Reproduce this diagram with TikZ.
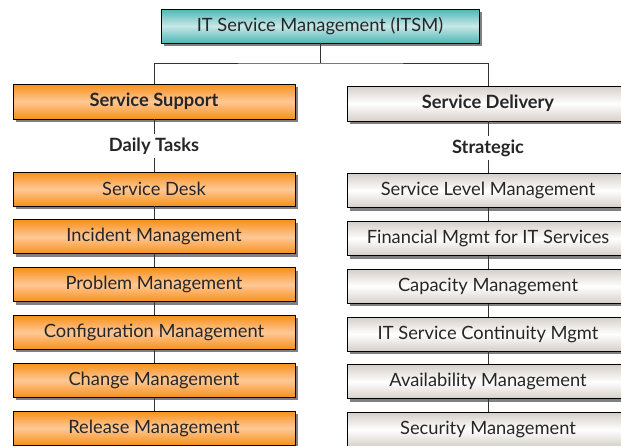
\documentclass[tikz,border=0pt]{standalone}
\usepackage{fontspec}
\setmainfont{Lato}
\usetikzlibrary{shadows}
\definecolor{tealA}{HTML}{4FB6B6}
\definecolor{tealB}{HTML}{C8E7E7}
\definecolor{orA}{HTML}{F7901A}
\definecolor{orB}{HTML}{FFC896}
\definecolor{grA}{HTML}{D6CFC8}
\definecolor{grB}{HTML}{FFFFFF}
\definecolor{lineC}{HTML}{333333}
\tikzset{
  box/.style={rectangle, draw=black, line width=0.9pt, minimum width=282pt, minimum height=34pt,
    inner sep=0pt, font=\fontsize{18.3}{20}\selectfont, text=black!85,
    drop shadow={shadow xshift=3pt, shadow yshift=-3pt, fill=black!50, opacity=1}},
  tealbox/.style={box, top color=tealA, bottom color=tealA, middle color=tealB},
  orbox/.style={box, top color=orA, bottom color=orA, middle color=orB},
  grbox/.style={box, top color=grA, bottom color=grA, middle color=grB},
  lbl/.style={font=\bfseries\fontsize{18.3}{20}\selectfont, inner sep=3pt, text=black!85},
  conn/.style={draw=lineC, line width=0.9pt}
}
\begin{document}
\begin{tikzpicture}[x=1pt, y=-1pt]
\useasboundingbox (0,0) rectangle (621,445);
\clip (0,0) rectangle (621,445);
\fill[white] (0,0) rectangle (621,445);
\coordinate (j) at (320,63);
% nodes
\node[tealbox, minimum width=318pt] (top) at (320,26) {IT Service Management (ITSM)};
\node[orbox, minimum height=35pt] (ss) at (154,101.5) {\bfseries Service Support};
\node[lbl] (dt) at (154,146) {Daily Tasks};
\node[orbox] (l1) at (154,189) {Service Desk};
\node[orbox] (l2) at (154,236.8) {Incident Management};
\node[orbox] (l3) at (154,284.6) {Problem Management};
\node[orbox] (l4) at (154,332.4) {Configuration Management};
\node[orbox] (l5) at (154,380.2) {Change Management};
\node[orbox] (l6) at (154,428) {Release Management};
\node[grbox, minimum height=35pt] (sd) at (488,103.5) {\bfseries Service Delivery};
\node[lbl] (st) at (488,148) {Strategic};
\node[grbox] (r1) at (488,190.5) {Service Level Management};
\node[grbox] (r2) at (488,238.5) {Financial Mgmt for IT Services};
\node[grbox] (r3) at (488,286.2) {Capacity Management};
\node[grbox] (r4) at (488,334) {IT Service Continuity Mgmt};
\node[grbox] (r5) at (488,381.8) {Availability Management};
\node[grbox] (r6) at (488,429.6) {Security Management};
% connectors
\draw[conn] (top.south) -- (j);
\draw[conn] (ss.north) |- (j) -| (sd.north);
\draw[conn] (ss.south) -- (dt.north);
\draw[conn] (dt.south) -- (l1.north);
\draw[conn] (l1.south) -- (l2.north);
\draw[conn] (l2.south) -- (l3.north);
\draw[conn] (l3.south) -- (l4.north);
\draw[conn] (l4.south) -- (l5.north);
\draw[conn] (l5.south) -- (l6.north);
\draw[conn] (sd.south) -- (st.north);
\draw[conn] (st.south) -- (r1.north);
\draw[conn] (r1.south) -- (r2.north);
\draw[conn] (r2.south) -- (r3.north);
\draw[conn] (r3.south) -- (r4.north);
\draw[conn] (r4.south) -- (r5.north);
\draw[conn] (r5.south) -- (r6.north);
\end{tikzpicture}
\end{document}
